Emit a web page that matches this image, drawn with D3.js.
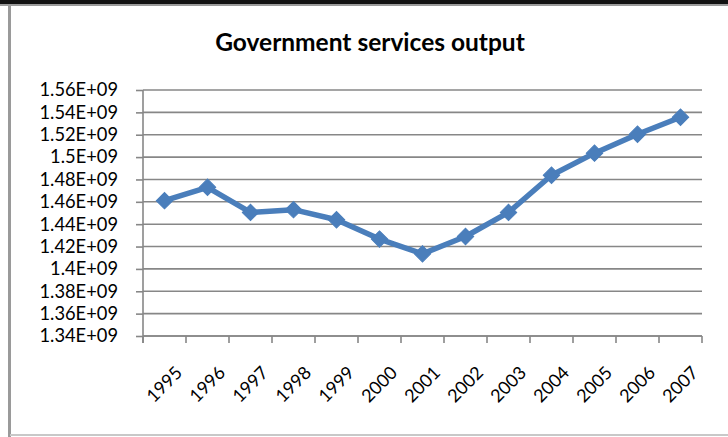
<!DOCTYPE html>
<html>
<head>
<meta charset="utf-8">
<script src="https://cdn.jsdelivr.net/npm/d3@7"></script>
<style>
  html, body { margin: 0; padding: 0; background: #fff; }
  svg { display: block; }
</style>
</head>
<body>
<svg id="chart" width="728" height="437"></svg>
<script>
// Government services output, 1995-2007
const years = ["1995","1996","1997","1998","1999","2000","2001","2002","2003","2004","2005","2006","2007"];
const output = [1.461e9, 1.473e9, 1.4505e9, 1.453e9, 1.444e9, 1.4267e9, 1.4135e9, 1.429e9, 1.4505e9, 1.4838e9, 1.5035e9, 1.5204e9, 1.5356e9];
const yTicks = [1.34e9, 1.36e9, 1.38e9, 1.40e9, 1.42e9, 1.44e9, 1.46e9, 1.48e9, 1.50e9, 1.52e9, 1.54e9, 1.56e9];
const titleText = "Government services output";

const W = 728, H = 437;
const plot = { left: 143, right: 702, top: 90, bottom: 336 };
const fontFamily = "Lato, 'Open Sans', sans-serif";

const svg = d3.select("#chart");

// Outer frame
svg.append("rect").attr("x", 0).attr("y", 0).attr("width", W).attr("height", 4).attr("fill", "#111");
svg.append("rect").attr("x", 0).attr("y", 4).attr("width", W).attr("height", 2).attr("fill", "#9a9a9a");
svg.append("rect").attr("x", 8).attr("y", 5).attr("width", 3).attr("height", H - 5).attr("fill", "#9a9a9a");
svg.append("rect").attr("x", 10).attr("y", H - 3).attr("width", W - 10).attr("height", 2).attr("fill", "#c8c8c8");

const x = d3.scaleBand().domain(years).range([plot.left, plot.right]);
const y = d3.scaleLinear().domain([1.34e9, 1.56e9]).range([plot.bottom, plot.top]);

const fmt = v => {
  const m = Math.round(v / 1e7) / 100;
  return String(m) + "E+09";
};

const gridColor = "#878787";

// Horizontal gridlines
svg.append("g")
  .selectAll("line")
  .data(yTicks)
  .join("line")
  .attr("x1", plot.left).attr("x2", plot.right)
  .attr("y1", d => y(d)).attr("y2", d => y(d))
  .attr("stroke", gridColor).attr("stroke-width", 1.6);

// Y axis
const yAxis = svg.append("g")
  .attr("transform", `translate(${plot.left},0)`)
  .call(d3.axisLeft(y).tickValues(yTicks).tickFormat(fmt).tickSize(7).tickPadding(18));
yAxis.select(".domain").remove();
yAxis.append("line")
  .attr("x1", 0).attr("x2", 0)
  .attr("y1", plot.top).attr("y2", plot.bottom + 7)
  .attr("stroke", gridColor).attr("stroke-width", 1.6);
yAxis.selectAll(".tick line").attr("stroke", gridColor).attr("stroke-width", 1.6);
yAxis.selectAll(".tick text")
  .attr("fill", "#000")
  .style("font-family", fontFamily)
  .style("font-size", "18.3px");

// X axis: ticks between categories
const xAxis = svg.append("g")
  .attr("transform", `translate(0,${plot.bottom})`);
xAxis.append("line")
  .attr("x1", plot.left).attr("x2", plot.right)
  .attr("y1", 0).attr("y2", 0)
  .attr("stroke", gridColor).attr("stroke-width", 1.6);
const edges = years.map(d => x(d)).concat([x(years[years.length - 1]) + x.bandwidth()]);
xAxis.selectAll("line.tick")
  .data(edges)
  .join("line")
  .attr("class", "tick")
  .attr("x1", d => d).attr("x2", d => d)
  .attr("y1", 0).attr("y2", 7)
  .attr("stroke", gridColor).attr("stroke-width", 1.6);
xAxis.selectAll("text")
  .data(years)
  .join("text")
  .attr("transform", d => `translate(${x(d) + x.bandwidth() / 2 + 10},${29}) rotate(-45)`)
  .attr("text-anchor", "end")
  .attr("dy", "0.7em")
  .style("font-family", fontFamily)
  .style("font-size", "18px")
  .attr("fill", "#000")
  .text(d => d);

// Title
svg.append("text")
  .attr("x", 370).attr("y", 51)
  .attr("text-anchor", "middle")
  .style("font-family", fontFamily)
  .style("font-weight", "bold")
  .style("font-size", "24.5px")
  .attr("fill", "#000")
  .text(titleText);

// Series line
const cx = d => x(d) + x.bandwidth() / 2;
const line = d3.line()
  .x((d, i) => cx(years[i]))
  .y(d => y(d));
svg.append("path")
  .datum(output)
  .attr("d", line)
  .attr("fill", "none")
  .attr("stroke", "#4a7ebb")
  .attr("stroke-width", 5.5)
  .attr("stroke-linejoin", "round");

// Diamond markers
svg.append("g")
  .selectAll("path")
  .data(output)
  .join("path")
  .attr("transform", (d, i) => `translate(${cx(years[i])},${y(d)}) rotate(45)`)
  .attr("d", d3.symbol().type(d3.symbolSquare).size(135))
  .attr("fill", "#4a7ebb")
  .attr("stroke", "#4a7ebb")
  .attr("stroke-width", 1);
</script>
</body>
</html>
